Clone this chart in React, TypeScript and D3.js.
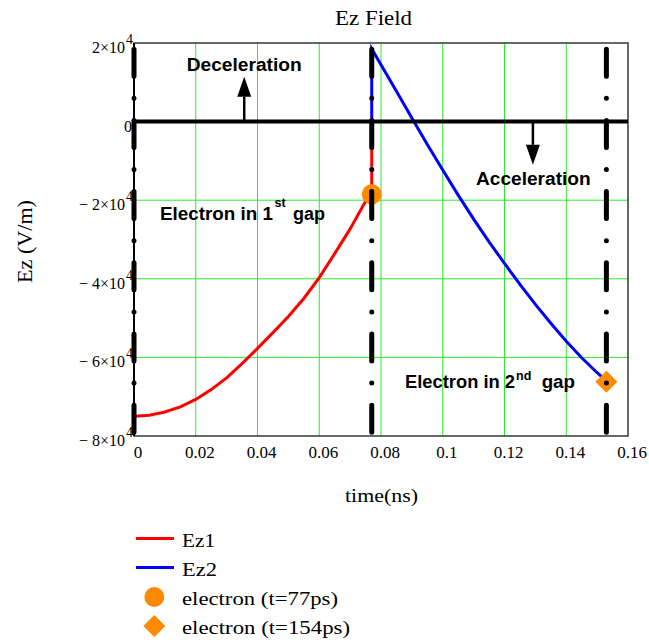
import * as d3 from "d3";
import React from "react";

// Ez1: field seen by the electron in the first gap (t in ns, Ez in V/m)
const tRed = [0, 0.005, 0.01, 0.015, 0.02, 0.025, 0.03, 0.035, 0.04, 0.045, 0.05, 0.055, 0.06, 0.065, 0.07, 0.075, 0.077, 0.077];
const ezRed = [-75000, -74700, -73900, -72600, -70700, -68200, -65200, -61600, -57700, -53700, -49600, -45000, -39700, -33600, -27300, -20300, -18200, 0];

// Ez2: field in the second gap
const tBlue = [0.077, 0.077, 0.08, 0.085, 0.09, 0.095, 0.1, 0.105, 0.11, 0.115, 0.12, 0.125, 0.13, 0.135, 0.14, 0.145, 0.15, 0.153];
const ezBlue = [0, 18500, 14450, 7700, 900, -5800, -12300, -18700, -24800, -30600, -36100, -41400, -46500, -51300, -55900, -60100, -63900, -66000];

const gapTimes = [0, 0.077, 0.153];
const electron1 = { t: 0.077, ez: -18500 };
const electron2 = { t: 0.153, ez: -66200 };

const xTicks = [0, 0.02, 0.04, 0.06, 0.08, 0.1, 0.12, 0.14, 0.16];
const xTickLabels = ["0", "0.02", "0.04", "0.06", "0.08", "0.1", "0.12", "0.14", "0.16"];
const yTicks = [20000, 0, -20000, -40000, -60000, -80000];
const yTickLabels = ["2×10", "0", "− 2×10", "− 4×10", "− 6×10", "− 8×10"];
const yTickExp = ["4", "", "4", "4", "4", "4"];

const legendLabels = ["Ez1", "Ez2", "electron (t=77ps)", "electron (t=154ps)"];

const SERIF = "'Liberation Serif', 'Times New Roman', serif";
const SANS = "'Liberation Sans', Arial, sans-serif";
const ORANGE = "#ff8a00";
const GRID = "#2ee82e";

const W = 649;
const H = 642;
const m = { left: 134, right: 628, top: 43, bottom: 436 };

type P = [number, number];

export default function App() {
  const x = d3.scaleLinear().domain([0, 0.16]).range([m.left, m.right]);
  const y = d3.scaleLinear().domain([-80000, 20000]).range([m.bottom, m.top]);

  const line = d3
    .line<P>()
    .x((d) => x(d[0]))
    .y((d) => y(d[1]));
  const red: P[] = tRed.map((t, i) => [t, ezRed[i]]);
  const blue: P[] = tBlue.map((t, i) => [t, ezBlue[i]]);

  const diamond = (cx: number, cy: number, r: number) =>
    `M${cx},${cy - r}L${cx + r},${cy}L${cx},${cy + r}L${cx - r},${cy}Z`;

  // arrow from the zero line, tip at value v
  const arrow = (t: number, v: number) => {
    const ax = x(t);
    const y0 = y(0);
    const tip = y(v);
    const dir = tip < y0 ? 1 : -1;
    const base = tip + dir * 20;
    return (
      <g>
        <line x1={ax} x2={ax} y1={y0} y2={base} stroke="#000" strokeWidth={2.5} />
        <path d={`M${ax},${tip}L${ax + 7},${base}L${ax - 7},${base}Z`} fill="#000" />
      </g>
    );
  };

  const legendY = [538.5, 567.5, 597, 626];

  return (
    <div style={{ position: "absolute", left: 0, top: 0 }}>
      <svg width={W} height={H} style={{ display: "block", background: "#fff" }}>
        {/* grid */}
        {xTicks.slice(1, -1).map((t) => (
          <line key={"gx" + t} x1={x(t)} x2={x(t)} y1={m.top} y2={m.bottom} stroke={GRID} strokeWidth={1} />
        ))}
        {yTicks.slice(1, -1).map((t) => (
          <line key={"gy" + t} x1={m.left} x2={m.right} y1={y(t)} y2={y(t)} stroke={GRID} strokeWidth={1} />
        ))}

        {/* frame */}
        <rect x={m.left} y={m.top} width={m.right - m.left} height={m.bottom - m.top} fill="none" stroke="#333a33" strokeWidth={1.5} />
        <line x1={m.left} x2={m.left} y1={m.top} y2={m.bottom} stroke="#000" strokeWidth={2} />

        {/* curves */}
        <path d={line(red) ?? undefined} fill="none" stroke="#ff0000" strokeWidth={3} />
        <path d={line(blue) ?? undefined} fill="none" stroke="#0000ff" strokeWidth={3} />

        {/* electrons */}
        <circle cx={x(electron1.t)} cy={y(electron1.ez)} r={10} fill={ORANGE} />
        <path d={diamond(x(electron2.t), y(electron2.ez), 11)} fill={ORANGE} />

        {/* zero line */}
        <line x1={m.left} x2={m.right} y1={y(0)} y2={y(0)} stroke="#000" strokeWidth={4} />

        {/* gap boundaries */}
        {gapTimes.map((t) => (
          <line
            key={"gap" + t}
            x1={x(t)}
            x2={x(t)}
            y1={m.top}
            y2={m.bottom}
            stroke="#000"
            strokeWidth={5}
            strokeLinecap="round"
            strokeDasharray="27 22.1 0 22.1"
            strokeDashoffset={65}
          />
        ))}

        {/* arrows */}
        {arrow(0.0357, 11400)}
        {arrow(0.1292, -11000)}

        {/* annotations */}
        <g fontFamily={SANS} fontWeight="bold" fill="#000">
          <text x={186.7} y={70.7} fontSize={17.5} textLength={115} lengthAdjust="spacingAndGlyphs">Deceleration</text>
          <text x={476} y={185} fontSize={17.5} textLength={114.7} lengthAdjust="spacingAndGlyphs">Acceleration</text>
          <text x={160} y={220} fontSize={17.5} textLength={113} lengthAdjust="spacingAndGlyphs">Electron in 1</text>
          <text x={274.5} y={207} fontSize={12.5}>st</text>
          <text x={293} y={220} fontSize={17.5} textLength={32} lengthAdjust="spacingAndGlyphs">gap</text>
          <text x={405} y={388} fontSize={17.5} textLength={110} lengthAdjust="spacingAndGlyphs">Electron in 2</text>
          <text x={516} y={380} fontSize={12.5}>nd</text>
          <text x={541.7} y={388} fontSize={17.5} textLength={33.3} lengthAdjust="spacingAndGlyphs">gap</text>
        </g>

        {/* x tick labels */}
        <g fontFamily={SERIF} fontSize={17} fill="#000" textAnchor="middle">
          {xTicks.map((t, i) => (
            <text key={"xl" + t} x={x(t) + 4} y={458}>
              {xTickLabels[i]}
            </text>
          ))}
        </g>

        {/* y tick labels */}
        <g fontFamily={SERIF} fill="#000">
          {yTicks.map((t, i) =>
            yTickExp[i] ? (
              <g key={"yl" + t}>
                <text x={125} y={y(t) + 10} fontSize={16} textAnchor="end">
                  {yTickLabels[i]}
                </text>
                <text x={126} y={y(t) + 1} fontSize={14}>
                  {yTickExp[i]}
                </text>
              </g>
            ) : (
              <text key={"yl" + t} x={132} y={y(t) + 10} fontSize={16} textAnchor="end">
                {yTickLabels[i]}
              </text>
            )
          )}
        </g>

        {/* titles */}
        <g fontFamily={SERIF} fill="#000">
          <text x={373.5} y={25} fontSize={20} textAnchor="middle" textLength={77} lengthAdjust="spacingAndGlyphs">
            Ez Field
          </text>
          <text x={381.5} y={502} fontSize={19} textAnchor="middle" textLength={73} lengthAdjust="spacingAndGlyphs">
            time(ns)
          </text>
          <text
            transform="translate(32,241.5) rotate(-90)"
            fontSize={20}
            textAnchor="middle"
            textLength={83}
            lengthAdjust="spacingAndGlyphs"
          >
            Ez (V/m)
          </text>
        </g>

        {/* legend */}
        <g fontFamily={SERIF} fontSize={18} fill="#000">
          <line x1={136} x2={174} y1={legendY[0]} y2={legendY[0]} stroke="#ff0000" strokeWidth={3} />
          <line x1={136} x2={174} y1={legendY[1]} y2={legendY[1]} stroke="#0000ff" strokeWidth={3} />
          <circle cx={154.3} cy={legendY[2]} r={10} fill={ORANGE} />
          <path d={diamond(154.3, legendY[3], 11)} fill={ORANGE} />
          {legendLabels.map((s, i) => (
            <text
              key={s}
              x={182}
              y={legendY[i] + 8}
              textLength={[33, 35, 156, 168][i]}
              lengthAdjust="spacingAndGlyphs"
            >
              {s}
            </text>
          ))}
        </g>
      </svg>
    </div>
  );
}
